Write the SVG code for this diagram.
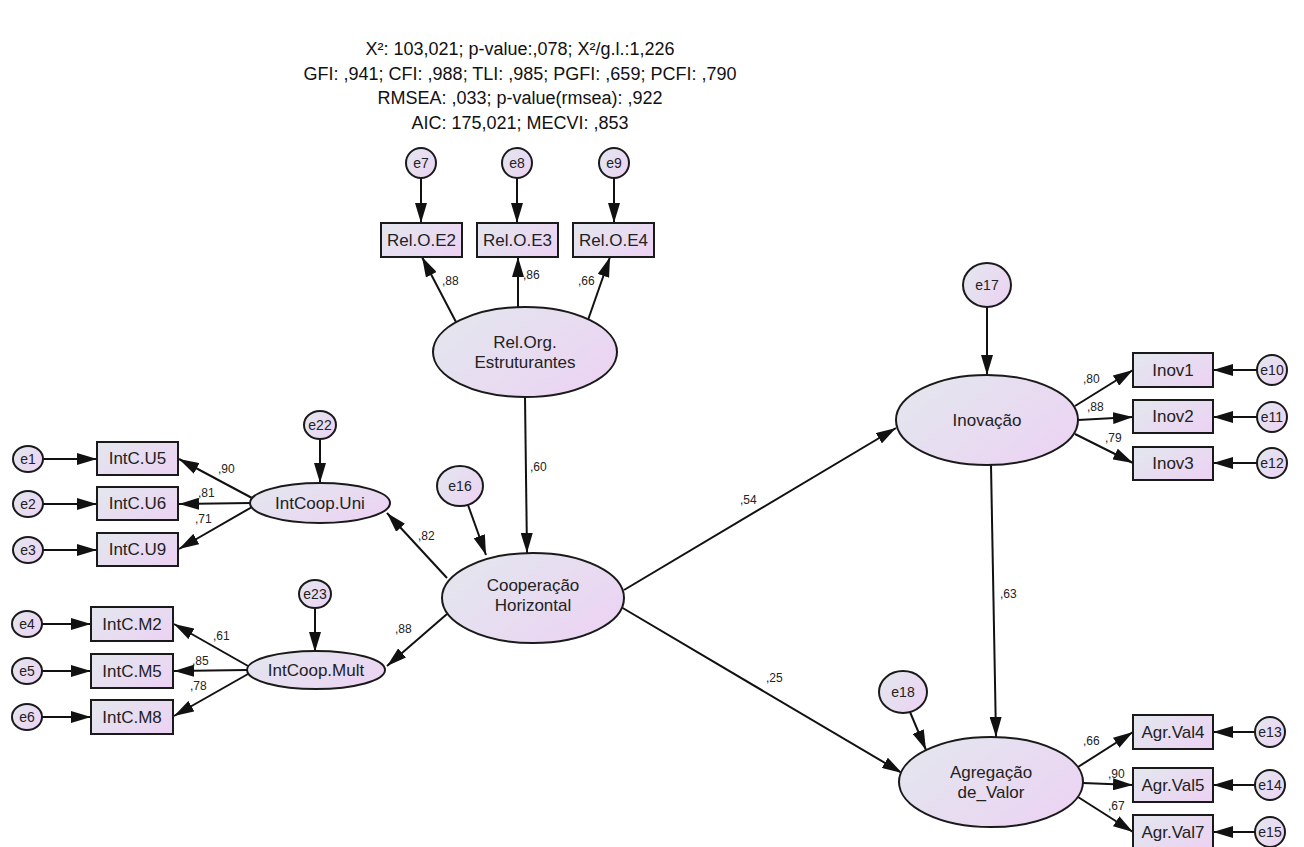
<svg xmlns="http://www.w3.org/2000/svg" width="1304" height="847" viewBox="0 0 1304 847">
  <defs>
    <linearGradient id="fill" x1="0" y1="0.2" x2="1" y2="0.8">
      <stop offset="0" stop-color="#e3e6ee"/>
      <stop offset="1" stop-color="#ecd3f3"/>
    </linearGradient>
    <marker id="arrow" markerUnits="userSpaceOnUse" markerWidth="20" markerHeight="12" refX="20" refY="6" orient="auto">
      <path d="M0,0 L20,6 L0,12 z" fill="#111"/>
    </marker>
    <style>
      .shape { fill: url(#fill); stroke: #1a1a1a; stroke-width: 2; }
      .lbl { font-family: "Liberation Sans", Arial, sans-serif; font-size: 17px; fill: #222; text-anchor: middle; }
      .err { font-family: "Liberation Sans", Arial, sans-serif; font-size: 14px; fill: #222; text-anchor: middle; }
      .coef { font-family: "Liberation Sans", Arial, sans-serif; font-size: 12px; fill: #222; }
      .fit { font-family: "Liberation Sans", Arial, sans-serif; font-size: 18px; fill: #111; text-anchor: middle; }
      .conn line { stroke: #111; stroke-width: 2; marker-end: url(#arrow); }
    </style>
  </defs>
  <rect width="1304" height="847" fill="#ffffff"/>

  <!-- model fit summary -->
  <g id="fit-indices">
    <text class="fit" x="520" y="55">X²: 103,021; p-value:,078; X²/g.l.:1,226</text>
    <text class="fit" x="520" y="80">GFI: ,941; CFI: ,988; TLI: ,985; PGFI: ,659; PCFI: ,790</text>
    <text class="fit" x="520" y="104">RMSEA: ,033; p-value(rmsea): ,922</text>
    <text class="fit" x="520" y="129">AIC: 175,021; MECVI: ,853</text>
  </g>

  <!-- connectors -->
  <g id="connectors" class="conn">
    <!-- error terms to indicators -->
    <line x1="421" y1="178" x2="421" y2="223"/>
    <line x1="517" y1="178" x2="517" y2="223"/>
    <line x1="614" y1="178" x2="614" y2="223"/>
    <line x1="43" y1="459" x2="97" y2="459"/>
    <line x1="43" y1="504" x2="97" y2="504"/>
    <line x1="43" y1="550" x2="97" y2="550"/>
    <line x1="42" y1="624" x2="91" y2="624"/>
    <line x1="42" y1="671" x2="91" y2="671"/>
    <line x1="42" y1="717" x2="91" y2="717"/>
    <line x1="1257" y1="370" x2="1213" y2="370"/>
    <line x1="1257" y1="417" x2="1213" y2="417"/>
    <line x1="1257" y1="463" x2="1213" y2="463"/>
    <line x1="1255" y1="732" x2="1213" y2="732"/>
    <line x1="1255" y1="785" x2="1213" y2="785"/>
    <line x1="1255" y1="832" x2="1213" y2="832"/>
    <!-- disturbances -->
    <line x1="320" y1="439" x2="320" y2="483"/>
    <line x1="315" y1="608" x2="315" y2="652"/>
    <line x1="468" y1="505" x2="486" y2="555"/>
    <line x1="987" y1="307" x2="987" y2="375"/>
    <line x1="910" y1="712" x2="926" y2="750"/>
    <!-- loadings -->
    <line x1="456" y1="322" x2="422" y2="257"/>
    <line x1="518" y1="307" x2="518" y2="257"/>
    <line x1="588" y1="320" x2="610" y2="257"/>
    <line x1="252" y1="498" x2="179" y2="459"/>
    <line x1="251" y1="503" x2="179" y2="504"/>
    <line x1="252" y1="507" x2="179" y2="549"/>
    <line x1="248" y1="666" x2="174" y2="624"/>
    <line x1="247" y1="670" x2="174" y2="671"/>
    <line x1="248" y1="674" x2="174" y2="716"/>
    <line x1="1075" y1="406" x2="1133" y2="370"/>
    <line x1="1078" y1="420" x2="1133" y2="417"/>
    <line x1="1075" y1="434" x2="1133" y2="463"/>
    <line x1="1078" y1="767" x2="1133" y2="732"/>
    <line x1="1083" y1="783" x2="1133" y2="785"/>
    <line x1="1078" y1="797" x2="1133" y2="832"/>
    <!-- structural paths -->
    <line x1="525" y1="397" x2="527" y2="553"/>
    <line x1="447" y1="578" x2="387" y2="513"/>
    <line x1="447" y1="614" x2="387" y2="666"/>
    <line x1="624" y1="590" x2="896" y2="428"/>
    <line x1="621" y1="607" x2="902" y2="773"/>
    <line x1="991" y1="465" x2="996" y2="737"/>
  </g>

  <!-- path coefficients -->
  <g id="coefficients">
    <text class="coef" x="442" y="285">,88</text>
    <text class="coef" x="523" y="279">,86</text>
    <text class="coef" x="578" y="285">,66</text>
    <text class="coef" x="218" y="473">,90</text>
    <text class="coef" x="198" y="497">,81</text>
    <text class="coef" x="195" y="523">,71</text>
    <text class="coef" x="213" y="640">,61</text>
    <text class="coef" x="192" y="665">,85</text>
    <text class="coef" x="190" y="690">,78</text>
    <text class="coef" x="418" y="540">,82</text>
    <text class="coef" x="395" y="633">,88</text>
    <text class="coef" x="530" y="471">,60</text>
    <text class="coef" x="740" y="504">,54</text>
    <text class="coef" x="766" y="682">,25</text>
    <text class="coef" x="1000" y="598">,63</text>
    <text class="coef" x="1083" y="383">,80</text>
    <text class="coef" x="1087" y="411">,88</text>
    <text class="coef" x="1105" y="442">,79</text>
    <text class="coef" x="1083" y="745">,66</text>
    <text class="coef" x="1108" y="778">,90</text>
    <text class="coef" x="1108" y="810">,67</text>
  </g>

  <!-- Rel.Org. Estruturantes block -->
  <g id="e7"><circle class="shape" cx="421" cy="163" r="15"/><text class="err" x="421" y="168">e7</text></g>
  <g id="e8"><circle class="shape" cx="517" cy="163" r="15"/><text class="err" x="517" y="168">e8</text></g>
  <g id="e9"><circle class="shape" cx="614" cy="163" r="15"/><text class="err" x="614" y="168">e9</text></g>
  <g id="RelOE2"><rect class="shape" x="381" y="223" width="81" height="34"/><text class="lbl" x="421.5" y="246">Rel.O.E2</text></g>
  <g id="RelOE3"><rect class="shape" x="477" y="223" width="81" height="34"/><text class="lbl" x="517.5" y="246">Rel.O.E3</text></g>
  <g id="RelOE4"><rect class="shape" x="573" y="223" width="81" height="34"/><text class="lbl" x="613.5" y="246">Rel.O.E4</text></g>
  <g id="RelOrg"><ellipse class="shape" cx="525" cy="352" rx="92" ry="45"/><text class="lbl" x="525" y="348">Rel.Org.</text><text class="lbl" x="525" y="368">Estruturantes</text></g>

  <!-- IntCoop.Uni block -->
  <g id="e22"><ellipse class="shape" cx="320" cy="425" rx="16" ry="14"/><text class="err" x="320" y="430">e22</text></g>
  <g id="e1"><ellipse class="shape" cx="28" cy="459" rx="15" ry="13"/><text class="err" x="28" y="464">e1</text></g>
  <g id="e2"><ellipse class="shape" cx="28" cy="504" rx="15" ry="13"/><text class="err" x="28" y="509">e2</text></g>
  <g id="e3"><ellipse class="shape" cx="28" cy="550" rx="15" ry="13"/><text class="err" x="28" y="555">e3</text></g>
  <g id="IntCU5"><rect class="shape" x="97" y="442" width="81" height="33"/><text class="lbl" x="137.5" y="464">IntC.U5</text></g>
  <g id="IntCU6"><rect class="shape" x="97" y="487" width="81" height="33"/><text class="lbl" x="137.5" y="509">IntC.U6</text></g>
  <g id="IntCU9"><rect class="shape" x="97" y="533" width="81" height="33"/><text class="lbl" x="137.5" y="555">IntC.U9</text></g>
  <g id="IntCoopUni"><ellipse class="shape" cx="320" cy="503" rx="70" ry="20"/><text class="lbl" x="320" y="509">IntCoop.Uni</text></g>

  <!-- IntCoop.Mult block -->
  <g id="e23"><ellipse class="shape" cx="315" cy="594" rx="16" ry="14"/><text class="err" x="315" y="599">e23</text></g>
  <g id="e4"><ellipse class="shape" cx="27" cy="624" rx="15" ry="13"/><text class="err" x="27" y="629">e4</text></g>
  <g id="e5"><ellipse class="shape" cx="27" cy="671" rx="15" ry="13"/><text class="err" x="27" y="676">e5</text></g>
  <g id="e6"><ellipse class="shape" cx="27" cy="717" rx="15" ry="13"/><text class="err" x="27" y="722">e6</text></g>
  <g id="IntCM2"><rect class="shape" x="91" y="607" width="82" height="34"/><text class="lbl" x="132" y="630">IntC.M2</text></g>
  <g id="IntCM5"><rect class="shape" x="91" y="654" width="82" height="34"/><text class="lbl" x="132" y="677">IntC.M5</text></g>
  <g id="IntCM8"><rect class="shape" x="91" y="700" width="82" height="34"/><text class="lbl" x="132" y="723">IntC.M8</text></g>
  <g id="IntCoopMult"><ellipse class="shape" cx="316" cy="670" rx="69" ry="19"/><text class="lbl" x="316" y="676">IntCoop.Mult</text></g>

  <!-- Cooperação Horizontal -->
  <g id="e16"><ellipse class="shape" cx="460" cy="486" rx="23" ry="20"/><text class="err" x="460" y="491">e16</text></g>
  <g id="CoopHoriz"><ellipse class="shape" cx="533" cy="598" rx="91" ry="45"/><text class="lbl" x="533" y="591">Cooperação</text><text class="lbl" x="533" y="611">Horizontal</text></g>

  <!-- Inovação block -->
  <g id="e17"><ellipse class="shape" cx="987" cy="285" rx="24" ry="22"/><text class="err" x="987" y="290">e17</text></g>
  <g id="Inovacao"><ellipse class="shape" cx="987" cy="420" rx="91" ry="45"/><text class="lbl" x="987" y="426">Inovação</text></g>
  <g id="Inov1"><rect class="shape" x="1133" y="353" width="80" height="34"/><text class="lbl" x="1173" y="376">Inov1</text></g>
  <g id="Inov2"><rect class="shape" x="1133" y="400" width="80" height="33"/><text class="lbl" x="1173" y="422">Inov2</text></g>
  <g id="Inov3"><rect class="shape" x="1133" y="447" width="80" height="33"/><text class="lbl" x="1173" y="469">Inov3</text></g>
  <g id="e10"><circle class="shape" cx="1272" cy="370" r="15"/><text class="err" x="1272" y="375">e10</text></g>
  <g id="e11"><circle class="shape" cx="1272" cy="417" r="15"/><text class="err" x="1272" y="422">e11</text></g>
  <g id="e12"><circle class="shape" cx="1272" cy="463" r="15"/><text class="err" x="1272" y="468">e12</text></g>

  <!-- Agregação de Valor block -->
  <g id="e18"><ellipse class="shape" cx="903" cy="692" rx="24" ry="21"/><text class="err" x="903" y="697">e18</text></g>
  <g id="AgregValor"><ellipse class="shape" cx="991" cy="782" rx="92" ry="45"/><text class="lbl" x="991" y="778">Agregação</text><text class="lbl" x="991" y="798">de_Valor</text></g>
  <g id="AgrVal4"><rect class="shape" x="1133" y="715" width="80" height="34"/><text class="lbl" x="1173" y="738">Agr.Val4</text></g>
  <g id="AgrVal5"><rect class="shape" x="1133" y="768" width="80" height="34"/><text class="lbl" x="1173" y="791">Agr.Val5</text></g>
  <g id="AgrVal7"><rect class="shape" x="1133" y="815" width="80" height="34"/><text class="lbl" x="1173" y="838">Agr.Val7</text></g>
  <g id="e13"><circle class="shape" cx="1270" cy="732" r="15"/><text class="err" x="1270" y="737">e13</text></g>
  <g id="e14"><circle class="shape" cx="1270" cy="785" r="15"/><text class="err" x="1270" y="790">e14</text></g>
  <g id="e15"><circle class="shape" cx="1270" cy="832" r="15"/><text class="err" x="1270" y="837">e15</text></g>
</svg>
